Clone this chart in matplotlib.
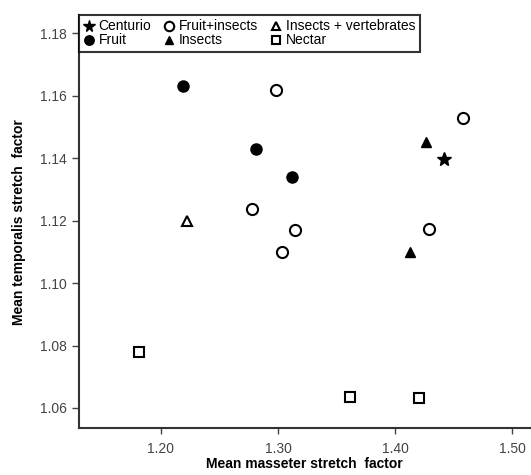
import matplotlib.pyplot as plt

plt.rcParams['font.family'] = ['Liberation Sans', 'DejaVu Sans']

# Mean masseter (x) and temporalis (y) stretch factors per diet group
centurio_x = [1.442]
centurio_y = [1.1396]

fruit_x = [1.219, 1.281, 1.312]
fruit_y = [1.1631, 1.1430, 1.1340]

fruit_insects_x = [1.298, 1.458, 1.278, 1.3145, 1.3037, 1.4285]
fruit_insects_y = [1.1620, 1.1530, 1.1236, 1.1169, 1.1098, 1.1174]

insects_x = [1.4265, 1.4128]
insects_y = [1.1451, 1.1100]

insects_vert_x = [1.2225]
insects_vert_y = [1.1198]

nectar_x = [1.1815, 1.361, 1.420]
nectar_y = [1.0778, 1.0636, 1.0631]

xticks = [1.20, 1.30, 1.40, 1.50]
yticks = [1.06, 1.08, 1.10, 1.12, 1.14, 1.16, 1.18]

fig = plt.figure(figsize=(5.31, 4.75), dpi=100)
ax = fig.add_axes([0.1488, 0.099, 0.849, 0.869])

ms = 8
ax.plot(centurio_x, centurio_y, '*', color='black', ms=ms + 2, ls='none', label='Centurio')
ax.plot(fruit_x, fruit_y, 'o', color='black', ms=ms, ls='none', label='Fruit')
ax.plot(fruit_insects_x, fruit_insects_y, 'o', mfc='white', mec='black', mew=1.5,
        ms=ms, ls='none', label='Fruit+insects')
ax.plot(insects_x, insects_y, '^', color='black', ms=ms - 1, ls='none', label='Insects')
ax.plot(insects_vert_x, insects_vert_y, '^', mfc='white', mec='black', mew=1.5,
        ms=ms - 1, ls='none', label='Insects + vertebrates')
ax.plot(nectar_x, nectar_y, 's', mfc='white', mec='black', mew=1.5,
        ms=ms - 0.5, ls='none', label='Nectar')

ax.set_xlim(1.13, 1.515)
ax.set_ylim(1.0536, 1.1858)
ax.set_xticks(xticks)
ax.set_xticklabels(['%.2f' % v for v in xticks])
ax.set_yticks(yticks)
ax.set_yticklabels(['%.2f' % v for v in yticks])
ax.tick_params(labelsize=10, colors='#444444', length=5, width=1)
ax.tick_params(axis='x', length=4, pad=6)

for s in ax.spines.values():
    s.set_linewidth(1.5)
    s.set_color('#333333')
ax.spines['top'].set_visible(False)
ax.spines['right'].set_visible(False)

ax.set_xlabel('Mean masseter stretch  factor', fontsize=10, fontweight='bold', labelpad=1)
ax.set_ylabel('Mean temporalis stretch  factor', fontsize=10, fontweight='bold', labelpad=10)

leg = ax.legend(loc='upper left', ncol=3, fontsize=10, frameon=True, fancybox=False,
                borderaxespad=0, handlelength=0.8, handletextpad=0.3, columnspacing=0.9,
                labelspacing=0.0, borderpad=0.3, markerscale=0.85)
leg.get_frame().set_edgecolor('black')
leg.get_frame().set_linewidth(1.5)

fig.savefig('out.png', dpi=100)
